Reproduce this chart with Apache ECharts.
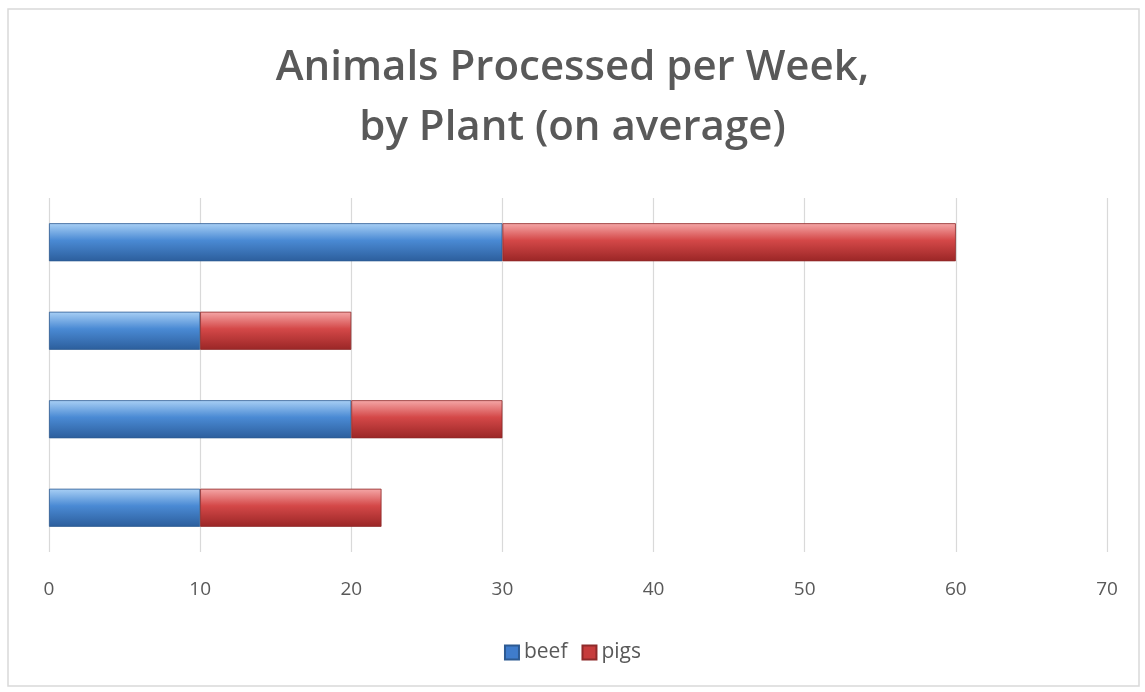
<!DOCTYPE html>
<html><head><meta charset="utf-8">
<script src="https://cdn.jsdelivr.net/npm/echarts@6/dist/echarts.min.js"></script>
<style>html,body{margin:0;padding:0;background:#fff}#c{width:1145px;height:692px}</style>
</head><body><div id="c"></div>
<script>
const categories = ['Plant D', 'Plant C', 'Plant B', 'Plant A'];
const beef = [10, 20, 10, 30];
const pigs = [12, 10, 10, 30];
const xTicks = [0, 10, 20, 30, 40, 50, 60, 70];

function grad(top, mid, bot) {
  return new echarts.graphic.LinearGradient(0, 0, 0, 1, [
    {offset: 0, color: top}, {offset: 0.45, color: mid}, {offset: 1, color: bot}
  ]);
}
const chart = echarts.init(document.getElementById('c'));
chart.setOption({
  backgroundColor: '#fff',
  animation: false,
  graphic: [{type: 'rect', shape: {x: 8, y: 9, width: 1131, height: 677}, style: {fill: 'none', stroke: '#d9d9d9', lineWidth: 1.5}, silent: true}],
  title: {
    text: 'Animals Processed per Week,\nby Plant (on average)',
    left: 'center', top: 33,
    textStyle: {fontFamily: 'Open Sans', fontWeight: 600, fontSize: 42, color: '#595959', lineHeight: 60}
  },
  legend: {
    bottom: 24, left: 'center', itemWidth: 14, itemHeight: 14, itemGap: 14,
    icon: 'rect',
    textStyle: {fontFamily: 'Open Sans', fontSize: 21, color: '#595959'},
    data: [{name: 'beef', itemStyle: {color: '#3f7ccc'}}, {name: 'pigs', itemStyle: {color: '#c63c3c'}}]
  },
  grid: {left: 49, right: 38, top: 198, bottom: 140, containLabel: false},
  xAxis: {
    type: 'value', min: 0, max: 70, interval: 10,
    axisLine: {show: false}, axisTick: {show: false},
    axisLabel: {fontFamily: 'Open Sans', fontSize: 19, color: '#595959', margin: 28,
      formatter: v => xTicks.includes(v) ? String(v) : ''},
    splitLine: {show: true, lineStyle: {color: '#d9d9d9', width: 1.2}}
  },
  yAxis: {
    type: 'category', data: categories,
    axisLine: {show: false}, axisTick: {show: false}, axisLabel: {show: false}
  },
  series: [
    {name: 'beef', type: 'bar', stack: 't', data: beef, barWidth: '43%',
      itemStyle: {color: grad('#a9d0f5', '#4a8ad4', '#2c5e9c'), borderColor: '#2d5a92', borderWidth: 0.8}},
    {name: 'pigs', type: 'bar', stack: 't', data: pigs, barWidth: '43%',
      itemStyle: {color: grad('#f5a8a8', '#d44848', '#9a2626'), borderColor: '#8e2a2a', borderWidth: 0.8}}
  ]
});
</script></body></html>
